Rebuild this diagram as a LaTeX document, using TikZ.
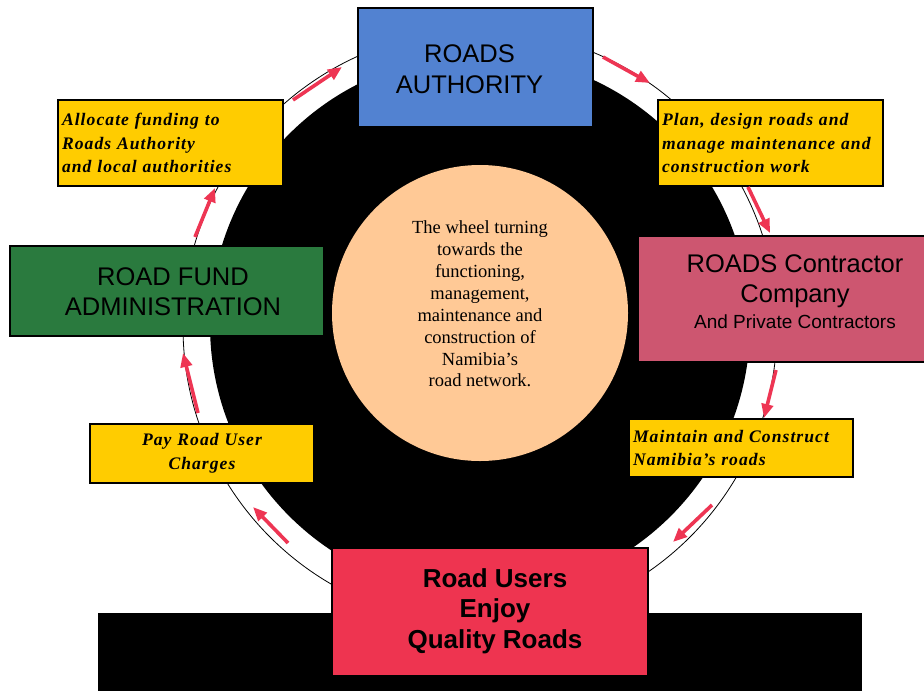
\documentclass[tikz,border=0pt]{standalone}
\usepackage{fontspec}
\setmainfont{Liberation Serif}
\setsansfont{Liberation Sans}
\newfontfamily\yfont[LetterSpace=6]{Liberation Serif}
\usetikzlibrary{arrows.meta}
\definecolor{blueA}{HTML}{5282D1}
\definecolor{greenA}{HTML}{2A7A3E}
\definecolor{pinkA}{HTML}{CD5670}
\definecolor{redA}{HTML}{EE3450}
\definecolor{yellowA}{HTML}{FFCC00}
\definecolor{peachA}{HTML}{FFC996}
\definecolor{arrowA}{HTML}{EE3553}
\begin{document}
\begin{tikzpicture}[x=1pt,y=-1pt,
  bigbox/.style={draw=black, line width=2.5pt, inner sep=0pt},
  bigtext/.style={align=center, inner sep=0pt, font=\sffamily\fontsize{25.5}{30.5}\selectfont},
  ybox/.style={draw=black, line width=2.2pt, fill=yellowA, inner ysep=0pt, inner xsep=4pt,
    font=\yfont\bfseries\itshape\fontsize{17.6}{23.5}\selectfont},
  arr/.style={draw=arrowA, line width=3.6pt, -{Triangle[length=14pt,width=11.5pt]}},
  thin/.style={draw=black, line width=0.8pt}]
\useasboundingbox (0,0) rectangle (924,691);
\fill[white] (0,0) rectangle (924,691);
% wheel
\draw[thin] (480,327) circle[radius=297];
\fill[black] (480,325) circle[radius=270];
\node[circle, fill=peachA, minimum size=296pt, inner sep=0pt] (hub) at (480,313) {};
\node[align=center, inner sep=0pt, font=\fontsize{18.5}{21.9}\selectfont] (hubtext) at (480,304)
  {The wheel turning\\towards the\\functioning,\\management,\\maintenance and\\construction of\\Namibia’s\\road network.};
\fill[black] (98,613) rectangle (862,691);
% main boxes
\node[bigbox, fill=blueA, minimum width=235pt, minimum height=119pt] (ra) at (475.5,67.5) {};
\node[bigtext] (ratext) at (469.5,69) {ROADS\\AUTHORITY};
\node[bigbox, fill=pinkA, minimum width=314pt, minimum height=126pt] (rc) at (795,299) {};
\node[bigtext] (rctext) at (795,291.5)
  {ROADS Contractor\\Company\\[-5pt]{\fontsize{19}{22}\selectfont And Private Contractors}};
\node[bigbox, fill=redA, minimum width=316pt, minimum height=128pt] (ru) at (490,612) {};
\node[bigtext, font=\sffamily\bfseries\fontsize{26}{30.5}\selectfont] (rutext) at (495,611)
  {Road Users\\Enjoy\\Quality Roads};
\node[bigbox, fill=greenA, minimum width=314pt, minimum height=90pt] (rf) at (167,291) {};
\node[bigtext] (rftext) at (173,291.5) {ROAD FUND\\ADMINISTRATION};
% yellow boxes
\node[ybox, minimum width=225pt, minimum height=86pt, text width=217pt, align=left] (alloc) at (170.5,143)
  {Allocate funding to\\Roads Authority\\and local authorities};
\node[ybox, minimum width=225pt, minimum height=86pt, text width=217pt, align=left] (plan) at (770.5,143)
  {Plan, design roads and\\manage maintenance and\\construction work};
\node[ybox, minimum width=224pt, minimum height=58pt, text width=216pt, align=left] (maint) at (741,448)
  {Maintain and Construct\\Namibia’s roads};
\node[ybox, minimum width=224pt, minimum height=59pt, text width=216pt, align=center] (pay) at (202,453.5)
  {Pay Road User\\Charges};
% arrows
\coordinate (a1s) at (293,100); \coordinate (a1e) at (342,67);
\coordinate (a2s) at (603,57);  \coordinate (a2e) at (650,83);
\coordinate (a3s) at (748,187); \coordinate (a3e) at (770,233);
\coordinate (a4s) at (776,370); \coordinate (a4e) at (764,418);
\coordinate (a5s) at (712,505); \coordinate (a5e) at (673,542);
\coordinate (a6s) at (288,543); \coordinate (a6e) at (253,507);
\coordinate (a7s) at (198,413); \coordinate (a7e) at (183,353);
\coordinate (a8s) at (195,237); \coordinate (a8e) at (215,188);
\foreach \i in {1,...,8} { \draw[arr] (a\i s) -- (a\i e); }
\end{tikzpicture}
\end{document}
